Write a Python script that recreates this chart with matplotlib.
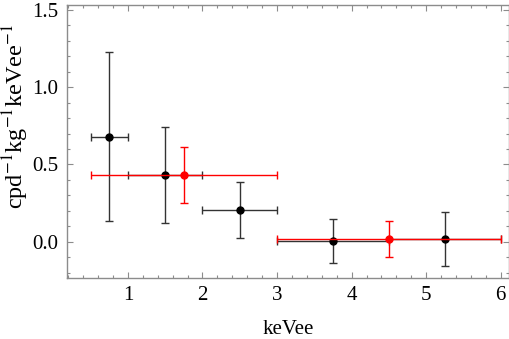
import matplotlib

matplotlib.use("Agg")
import matplotlib.pyplot as plt
from matplotlib.ticker import FormatStrFormatter, MultipleLocator
import numpy as np

# black series: bin centres, rate, bin half widths, asymmetric y errors
black_x = np.array([0.75, 1.5, 2.5, 3.75, 5.25])
black_y = np.array([0.68, 0.431, 0.205, 0.006, 0.019])
black_xerr = np.array([0.25, 0.5, 0.5, 0.75, 0.75])
black_lo = np.array([0.138, 0.123, 0.026, -0.136, -0.155])
black_hi = np.array([1.224, 0.739, 0.386, 0.151, 0.194])

# red series
red_x = np.array([1.75, 4.5])
red_y = np.array([0.431, 0.019])
red_xerr = np.array([1.25, 1.5])
red_lo = np.array([0.252, -0.095])
red_hi = np.array([0.614, 0.134])

plt.rcParams.update(
    {
        "font.family": "Liberation Serif",
        "mathtext.fontset": "stix",
        "font.size": 15,
    }
)

fig = plt.figure(figsize=(5.1, 3.39), dpi=100)
ax = fig.add_axes([66.7 / 510, 61 / 339, 442.3 / 510, 273 / 339])

ax.errorbar(
    black_x, black_y, xerr=black_xerr,
    yerr=[black_y - black_lo, black_hi - black_y],
    fmt="o", color="black", ecolor="#333333", markersize=5,
    elinewidth=1.0, capsize=3, capthick=1.0, zorder=3,
)
ax.errorbar(
    red_x, red_y, xerr=red_xerr,
    yerr=[red_y - red_lo, red_hi - red_y],
    fmt="o", color="#ff0000", ecolor="#ff0000", markersize=5,
    elinewidth=1.0, capsize=3, capthick=1.0, zorder=4,
)

ax.set_xlim(0.18, 6.11)
ax.set_ylim(-0.233, 1.53)
ax.xaxis.set_major_locator(MultipleLocator(1))
ax.xaxis.set_minor_locator(MultipleLocator(0.2))
ax.yaxis.set_major_locator(MultipleLocator(0.5))
ax.yaxis.set_minor_locator(MultipleLocator(0.1))
ax.yaxis.set_major_formatter(FormatStrFormatter("%.1f"))

frame_color = "#8c8c8c"
for spine in ax.spines.values():
    spine.set_color(frame_color)
    spine.set_linewidth(1.0)
ax.tick_params(which="both", direction="in", top=True, right=True, color=frame_color, width=0.8)
ax.tick_params(which="major", length=4.5, pad=6)
ax.tick_params(which="minor", length=2.5)

fig.text(16 / 510, 1 - 116 / 339, r"cpd$^{-1}$kg$^{-1}$keVee$^{-1}$",
         rotation=90, ha="center", va="center", fontsize=17.5)
fig.text(288 / 510, 1 - 329 / 339, "keVee", ha="center", va="center")

fig.savefig("out.png", dpi=100)
